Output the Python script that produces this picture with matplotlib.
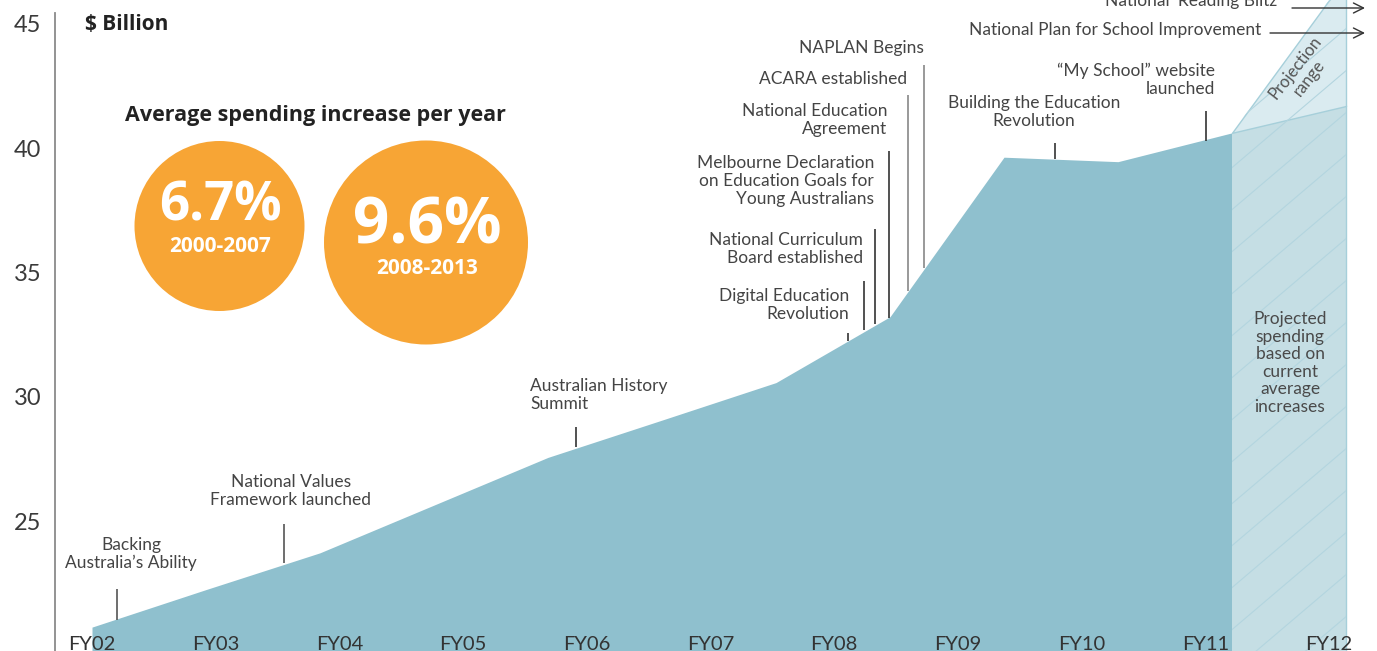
import matplotlib
matplotlib.use('Agg')
import matplotlib.pyplot as plt
import numpy as np
from matplotlib.patches import Circle, Polygon

plt.rcParams['font.family'] = ['Lato', 'DejaVu Sans']

# ---------------- data ----------------
fy_labels = ['FY02', 'FY03', 'FY04', 'FY05', 'FY06', 'FY07', 'FY08',
             'FY09', 'FY10', 'FY11', 'FY12']
spending = [20.73, 22.24, 23.72, 25.64, 27.56, 29.06, 30.57, 33.22,
            39.64, 39.46, 40.62]
proj_low = 41.70
proj_high = 46.89
y_ticks = [25, 30, 35, 40, 45]
rate_values = ['6.7%', '9.6%']
rate_periods = ['2000-2007', '2008-2013']

# ---------------- layout ----------------
W, H = 1377, 651
PX_PER_FY = 123.7      # spacing of FY labels (px)
PX_PER_PT = 114.0      # spacing of data points (px)
PX_PER_UNIT = 24.85    # px per $1bn
X0, Y45 = 92, 24
AX_LEFT = 55

MAIN = '#8FC0CE'
PROJ = '#C5DEE4'
RANGE = '#DAEBF0'
EDGE = '#A6CFDA'
ORANGE = '#F7A535'
TXT = '#444444'
BOLD_FONT = ['Open Sans', 'DejaVu Sans']

fig = plt.figure(figsize=(W / 100, H / 100), dpi=100)
ax = fig.add_axes([AX_LEFT / W, 0, 1 - AX_LEFT / W, 1])


def dx(px):
    return (np.asarray(px, dtype=float) - X0) / PX_PER_FY


def dy(py):
    return 45 - (np.asarray(py, dtype=float) - Y45) / PX_PER_UNIT


ax.set_xlim(dx(AX_LEFT), dx(W))
ybot, ytop = dy(H), dy(0)
ax.set_ylim(ybot, ytop)

x = np.arange(len(spending) + 1) * PX_PER_PT / PX_PER_FY
xa = x[:len(spending)]
x10, x11 = x[len(spending) - 1], x[len(spending)]
vlast = spending[-1]

# main area
ax.fill_between(xa, spending, ybot - 5, color=MAIN, lw=0, zorder=2)
# projected spending
ax.fill_between([x10, x11], [vlast, proj_low], ybot - 5, color=PROJ, lw=0, zorder=2)
# projection range
ax.fill_between([x10, x11], [vlast, proj_low], [vlast, proj_high],
                facecolor=RANGE, edgecolor=EDGE, lw=1.0, zorder=2)
ax.plot([x11, x11], [ybot, proj_low], color=EDGE, lw=1.0, zorder=3)

# hatch lines clipped to the projection column
clip = Polygon([(x10, ybot - 5), (x10, vlast), (x11, proj_high), (x11, ybot - 5)],
               closed=True, fill=False, lw=0, transform=ax.transData)
ax.add_patch(clip)
slope = 0.85 * PX_PER_FY / PX_PER_UNIT
step = 42 / PX_PER_UNIT
for c in np.arange(ybot - slope * (x11 - x10) - 2, ytop + 2, step):
    ln, = ax.plot([x10, x11], [c, c + slope * (x11 - x10)],
                  color='#B3D5DF', lw=0.8, zorder=3)
    ln.set_clip_path(clip)

# axes styling
for s in ['top', 'right', 'bottom']:
    ax.spines[s].set_visible(False)
ax.spines['left'].set_color('#8A8A8A')
ax.spines['left'].set_linewidth(1.3)
ax.spines['left'].set_bounds(ybot, dy(13))
ax.set_xticks([])
ax.set_yticks(y_ticks)
ax.tick_params(axis='y', length=0, pad=10, labelsize=17, labelcolor='#3A3A3A')

# FY labels
for i, lab in enumerate(fy_labels):
    ax.text(i, 0.002, lab, transform=ax.get_xaxis_transform(), ha='center',
            va='baseline', fontsize=14.5, color='#333333', zorder=5)

# headers
ax.text(dx(85), dy(24), '$ Billion', ha='left', va='center', fontsize=15,
        fontweight='bold', color='#222222', family=BOLD_FONT)
ax.text(dx(315), dy(115), 'Average spending increase per year', ha='center',
        va='center', fontsize=15.5, fontweight='bold', color='#222222', family=BOLD_FONT)

# circles (drawn in inches so they stay round)
circles = [((219.5, 226), 85), ((426, 242.5), 102)]
val_y = [206, 227]
per_y = [247, 268]
val_size = [38, 46]
for (c, r), v, p, vy, py, vs in zip(circles, rate_values, rate_periods, val_y, per_y, val_size):
    circ = Circle((c[0] / 100, (H - c[1]) / 100), r / 100, transform=fig.dpi_scale_trans,
                  facecolor=ORANGE, edgecolor='none', zorder=4)
    ax.add_patch(circ)
    ax.text(dx(c[0] + 1), dy(vy), v, ha='center', va='center', fontsize=vs,
            fontweight='bold', color='white', zorder=6, family=BOLD_FONT)
    ax.text(dx(c[0] + 1), dy(py), p, ha='center', va='center', fontsize=15,
            fontweight='bold', color='white', zorder=6, family=BOLD_FONT)

# event annotations: text, (x, y), ha, leader (x, y0, y1), leader colour
events = [
    ('Backing\nAustralia\u2019s Ability', (131, 554), 'center', (117, 589, 620), '#555555'),
    ('National Values\nFramework launched', (291, 491), 'center', (284, 524, 563), '#555555'),
    ('Australian History\nSummit', (530, 395), 'left', (576, 427, 447), '#333333'),
    ('Digital Education\nRevolution', (849, 305), 'right', (848, 333, 341), '#333333'),
    ('National Curriculum\nBoard established', (863, 249), 'right', (864, 281, 330), '#333333'),
    ('Melbourne Declaration\non Education Goals for\nYoung Australians', (874, 181), 'right',
     (875, 229, 324), '#333333'),
    ('National Education\nAgreement', (887, 120), 'right', (889, 151, 318), '#333333'),
    ('ACARA established', (907, 79), 'right', (908, 95, 291), '#888888'),
    ('NAPLAN Begins', (924, 48), 'right', (924, 65, 268), '#888888'),
    ('Building the Education\nRevolution', (1034, 112), 'center', (1055, 143, 159), '#333333'),
    ('\u201cMy School\u201d website\nlaunched', (1215, 80), 'right', (1206, 111, 141), '#333333'),
]
for txt, (tx, ty), ha, (lx, l0, l1), lc in events:
    ax.text(dx(tx), dy(ty), txt, ha=ha, va='center', fontsize=12.5, color=TXT,
            linespacing=1.18, zorder=6)
    ax.plot([dx(lx), dx(lx)], [dy(l0), dy(l1)], color=lc, lw=1.2, zorder=5,
            solid_capstyle='butt')

# arrow annotations (off the chart to the right)
arrows = [
    ('National Plan for School Improvement', (1261, 30), (1270, 1365, 33)),
    ('National \u2018Reading Blitz\u2019', (1281, 1), (1292, 1365, 8)),
]
for txt, (tx, ty), (a0, a1, ay) in arrows:
    ax.text(dx(tx), dy(ty), txt, ha='right', va='center', fontsize=12.5, color=TXT,
            zorder=6)
    ax.annotate('', xy=(dx(a1), dy(ay)), xytext=(dx(a0), dy(ay)),
                arrowprops=dict(arrowstyle='->', color='#333333', lw=1.0,
                                mutation_scale=18, shrinkA=0, shrinkB=0),
                zorder=6)

ax.text(dx(1290), dy(363), 'Projected\nspending\nbased on\ncurrent\naverage\nincreases',
        ha='center', va='center', fontsize=12.5, color='#4A4A4A', linespacing=1.12, zorder=6)
ax.text(dx(1302), dy(73), 'Projection\nrange', ha='center', va='center', fontsize=12,
        color='#555555', rotation=52, linespacing=1.1, zorder=6)

fig.savefig('out.png', dpi=100)
